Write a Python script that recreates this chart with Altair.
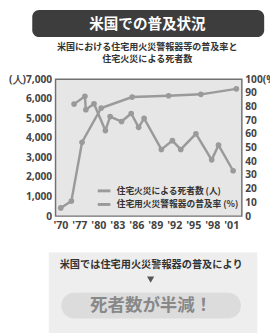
import json
import altair as alt
import pandas as pd

# ---- data ----
tick_labels = ["'70", "'77", "'80", "'83", "'86", "'89", "'92", "'95", "'98", "'01"]
# x positions expressed in tick-index units of the (schematic) year axis
deaths_t = [0.72, 1.29, 1.34, 1.77, 2.37, 2.62, 3.22, 3.73, 4.12, 4.41, 5.32, 5.90, 6.34, 7.14, 7.97, 8.33, 9.10]
deaths_v = [5730, 6130, 5440, 5750, 4380, 5090, 4840, 5250, 4540, 5000, 3410, 3860, 3410, 4210, 2880, 3630, 2320]
pct_t = [0.02, 0.58, 1.14, 2.15, 3.78, 5.70, 7.40, 9.27]
pct_v = [6, 11, 54, 79, 87, 88, 89, 93]
series_names = ["住宅火災による死者数 (人)", "住宅用火災警報器の普及率 (%)"]
left_ticks = [0, 1000, 2000, 3000, 4000, 5000, 6000, 7000]
right_ticks = [0, 10, 20, 30, 40, 50, 60, 70, 80, 90, 100]
header = ["米国での普及状況"]
subtitle = ["米国における住宅用火災警報器等の普及率と", "住宅火災による死者数"]
box_text = ["米国では住宅用火災警報器の普及により"]
result_text = ["死者数が半減！"]

JP = "Noto Sans CJK JP"
NUM = "Open Sans"
GRAY = "#9a9a9a"
LAB = "#444444"

deaths_df = pd.DataFrame({"t": deaths_t, "v": deaths_v, "s": series_names[0]})
pct_df = pd.DataFrame({"t": pct_t, "v": pct_v, "s": series_names[1]})

xscale = alt.Scale(domain=[-0.256, 9.56], nice=False, zero=False)
xaxis = alt.Axis(values=list(range(len(tick_labels))),
                 labelExpr=json.dumps(tick_labels) + "[datum.value]",
                 title=None, domain=False, ticks=False, grid=False,
                 labelPadding=4, labelFont=NUM, labelFontSize=11,
                 labelFontWeight="bold", labelColor=LAB)
cscale = alt.Scale(domain=series_names, range=[GRAY, GRAY])
legend = alt.Legend(orient="none", legendX=42, legendY=107, title=None,
                    symbolType="stroke", symbolStrokeWidth=3, symbolSize=169,
                    symbolStrokeColor=GRAY,
                    labelFont=JP, labelFontSize=9, labelFontWeight="bold",
                    labelColor="#333333", labelOffset=5, rowPadding=0, padding=0)

yl = alt.Y("v:Q", scale=alt.Scale(domain=[0, 7000], nice=False),
           axis=alt.Axis(orient="left", values=left_ticks, title=None, domain=False,
                         ticks=False, grid=False, labelPadding=4,
                         labelExpr="datum.value == 7000 ? '(人)7,000' : format(datum.value, ',')",
                         labelFont=NUM, labelFontSize=10.5, labelFontWeight="bold",
                         labelColor=LAB))
yr = alt.Y("v:Q", scale=alt.Scale(domain=[0, 100], nice=False),
           axis=alt.Axis(orient="right", values=right_ticks, title=None, domain=False,
                         ticks=False, grid=False, labelPadding=3,
                         labelExpr="datum.value == 100 ? '100(%)' : datum.label",
                         labelFont=NUM, labelFontSize=10.5, labelFontWeight="bold",
                         labelColor=LAB))

d_line = alt.Chart(deaths_df).mark_line(strokeWidth=2.5).encode(
    x=alt.X("t:Q", scale=xscale, axis=xaxis), y=yl,
    color=alt.Color("s:N", scale=cscale, legend=legend))
d_pts = alt.Chart(deaths_df).mark_circle(size=34, opacity=1).encode(
    x=alt.X("t:Q", scale=xscale, axis=xaxis), y=yl,
    color=alt.Color("s:N", scale=cscale, legend=None))
p_line = alt.Chart(pct_df).mark_line(strokeWidth=2.5).encode(
    x=alt.X("t:Q", scale=xscale, axis=xaxis), y=yr,
    color=alt.Color("s:N", scale=cscale, legend=legend))
p_pts = alt.Chart(pct_df).mark_circle(size=34, opacity=1).encode(
    x=alt.X("t:Q", scale=xscale, axis=xaxis), y=yr,
    color=alt.Color("s:N", scale=cscale, legend=None))

deaths_layer = alt.layer(d_line, d_pts)
pct_layer = alt.layer(p_line, p_pts)

one = pd.DataFrame({"k": [0]})


def text_layer(txt, x, y, size, color, weight="bold"):
    return alt.Chart(pd.DataFrame({"text": [txt]})).mark_text(
        font=JP, fontSize=size, fontWeight=weight, color=color,
        align="center", baseline="middle").encode(
        x=alt.value(x), y=alt.value(y), text="text:N")


hdr_rect = alt.Chart(one).mark_rect(color="#3d3d3d", cornerRadius=7).encode(
    x=alt.value(-24), x2=alt.value(215), y=alt.value(-71.5), y2=alt.value(-43.5))
hdr_text = text_layer(header[0], 94.7, -57, 15, "white")
sub1 = text_layer(subtitle[0], 94.5, -33.5, 9.3, "#333333")
sub2 = text_layer(subtitle[1], 94.5, -21.3, 9.3, "#333333")

box_rect = alt.Chart(one).mark_rect(color="#eeeeee").encode(
    x=alt.value(-7), x2=alt.value(208), y=alt.value(178.5), y2=alt.value(262))
box_txt = text_layer(box_text[0], 98.5, 191.5, 10.5, "#333333")
tri = alt.Chart(one).mark_point(shape="triangle-down", filled=True, size=55,
                                color="#555555", opacity=1).encode(
    x=alt.value(98), y=alt.value(206.5))
pill = alt.Chart(one).mark_rect(color="#dcdcdc", cornerRadius=13).encode(
    x=alt.value(6), x2=alt.value(191), y=alt.value(220), y2=alt.value(246.5))
pill_txt = text_layer(result_text[0], 98.5, 233.5, 18, "#888888")

chart = alt.layer(
    hdr_rect, hdr_text, sub1, sub2, box_rect, box_txt, tri, pill, pill_txt,
    deaths_layer, pct_layer
).resolve_scale(y="independent").properties(
    width=192, height=141,
    autosize=alt.AutoSizeParams(type="none"),
    padding={"left": 49, "top": 68.5, "right": 29, "bottom": 115.5},
    background="white",
).configure_view(fill="#e6e6e6", stroke="#707070", strokeWidth=1.5)

chart.save("out.html", embed_options={"renderer": "svg", "actions": False})
